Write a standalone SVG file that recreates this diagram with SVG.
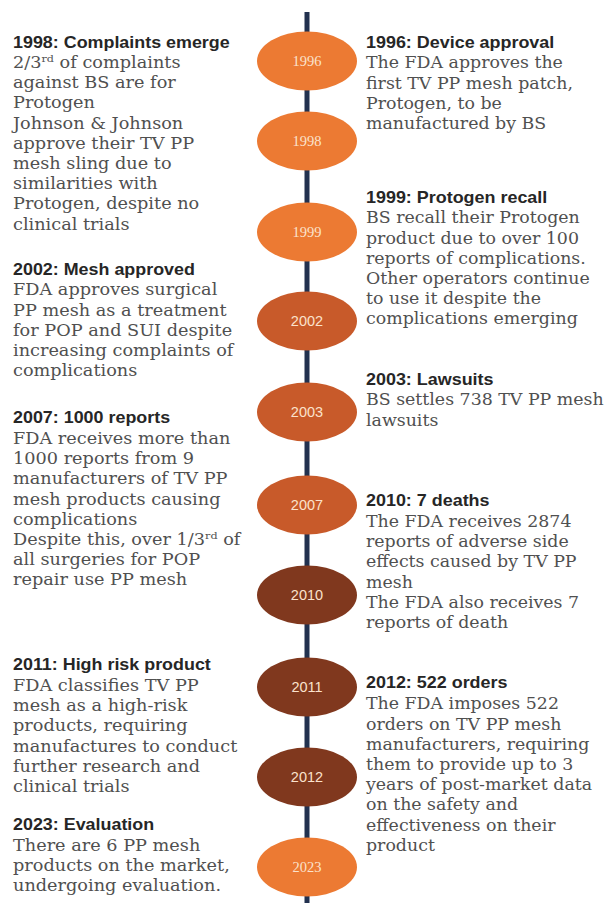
<svg xmlns="http://www.w3.org/2000/svg" width="612" height="903" viewBox="0 0 612 903">
<defs>
<style>
.t { font-family: "Liberation Sans", Arial, sans-serif; font-weight: bold; font-size: 16.3px; fill: #262626; }
.b { font-family: "DejaVu Serif", "Liberation Serif", serif; font-size: 15.8px; fill: #505050; }
.yl { font-size: 14.5px; fill: #fbe2cc; text-anchor: middle; }
.ys { font-family: "Liberation Serif", serif; }
.yn { font-family: "Liberation Sans", Arial, sans-serif; }
.c1 { fill: #ec7a33; }
.c2 { fill: #c85a2a; }
.c3 { fill: #80381e; }
.sup { font-size: 10px; }
</style>
</defs>
<rect width="612" height="903" fill="#ffffff"/>
<g id="connectors">
<line x1="307" y1="12" x2="307" y2="903" stroke="#22314f" stroke-width="5"/>
</g>
<g id="node-1996"><ellipse class="c1" cx="307" cy="61" rx="50" ry="29.5"/><text class="yl ys" x="307" y="66">1996</text></g>
<g id="node-1998"><ellipse class="c1" cx="307" cy="141" rx="50" ry="29.5"/><text class="yl ys" x="307" y="146">1998</text></g>
<g id="node-1999"><ellipse class="c1" cx="307" cy="232" rx="50" ry="29.5"/><text class="yl ys" x="307" y="237">1999</text></g>
<g id="node-2002"><ellipse class="c2" cx="307" cy="321" rx="50" ry="29.5"/><text class="yl yn" x="307" y="326">2002</text></g>
<g id="node-2003"><ellipse class="c2" cx="307" cy="412" rx="50" ry="29.5"/><text class="yl yn" x="307" y="417">2003</text></g>
<g id="node-2007"><ellipse class="c2" cx="307" cy="505" rx="50" ry="29.5"/><text class="yl yn" x="307" y="510">2007</text></g>
<g id="node-2010"><ellipse class="c3" cx="307" cy="595" rx="50" ry="29.5"/><text class="yl yn" x="307" y="600">2010</text></g>
<g id="node-2011"><ellipse class="c3" cx="307" cy="687" rx="50" ry="29.5"/><text class="yl yn" x="307" y="692">2011</text></g>
<g id="node-2012"><ellipse class="c3" cx="307" cy="777" rx="50" ry="29.5"/><text class="yl yn" x="307" y="782">2012</text></g>
<g id="node-2023"><ellipse class="c1" cx="307" cy="867" rx="50" ry="29.5"/><text class="yl ys" x="307" y="872">2023</text></g>

<g id="text-1998" transform="translate(13,0) scale(1.12,1)">
<text class="t" x="0" y="48" transform="scale(0.98,1)">1998: Complaints emerge</text>
<text class="b" x="0" y="68">2/3<tspan class="sup" dy="-6">rd</tspan><tspan dy="6"> of complaints</tspan></text>
<text class="b" x="0" y="88.2">against BS are for</text>
<text class="b" x="0" y="108.4">Protogen</text>
<text class="b" x="0" y="128.6">Johnson &amp; Johnson</text>
<text class="b" x="0" y="148.8">approve their TV PP</text>
<text class="b" x="0" y="169">mesh sling due to</text>
<text class="b" x="0" y="189.2">similarities with</text>
<text class="b" x="0" y="209.4">Protogen, despite no</text>
<text class="b" x="0" y="229.6">clinical trials</text>
</g>
<g id="text-2002" transform="translate(13,0) scale(1.12,1)">
<text class="t" x="0" y="275" transform="scale(0.98,1)">2002: Mesh approved</text>
<text class="b" x="0" y="295.5">FDA approves surgical</text>
<text class="b" x="0" y="315.7">PP mesh as a treatment</text>
<text class="b" x="0" y="335.9">for POP and SUI despite</text>
<text class="b" x="0" y="356.1">increasing complaints of</text>
<text class="b" x="0" y="376.3">complications</text>
</g>
<g id="text-2007" transform="translate(13,0) scale(1.12,1)">
<text class="t" x="0" y="423" transform="scale(0.98,1)">2007: 1000 reports</text>
<text class="b" x="0" y="444">FDA receives more than</text>
<text class="b" x="0" y="464.2">1000 reports from 9</text>
<text class="b" x="0" y="484.4">manufacturers of TV PP</text>
<text class="b" x="0" y="504.6">mesh products causing</text>
<text class="b" x="0" y="524.8">complications</text>
<text class="b" x="0" y="545">Despite this, over 1/3<tspan class="sup" dy="-6">rd</tspan><tspan dy="6"> of</tspan></text>
<text class="b" x="0" y="565.2">all surgeries for POP</text>
<text class="b" x="0" y="585.4">repair use PP mesh</text>
</g>
<g id="text-2011" transform="translate(13,0) scale(1.12,1)">
<text class="t" x="0" y="670" transform="scale(0.98,1)">2011: High risk product</text>
<text class="b" x="0" y="691">FDA classifies TV PP</text>
<text class="b" x="0" y="711.2">mesh as a high-risk</text>
<text class="b" x="0" y="731.4">products, requiring</text>
<text class="b" x="0" y="751.6">manufactures to conduct</text>
<text class="b" x="0" y="771.8">further research and</text>
<text class="b" x="0" y="792">clinical trials</text>
</g>
<g id="text-2023" transform="translate(13,0) scale(1.12,1)">
<text class="t" x="0" y="830" transform="scale(0.98,1)">2023: Evaluation</text>
<text class="b" x="0" y="851">There are 6 PP mesh</text>
<text class="b" x="0" y="871.2">products on the market,</text>
<text class="b" x="0" y="891.4">undergoing evaluation.</text>
</g>

<g id="text-1996" transform="translate(366,0) scale(1.1,1)">
<text class="t" x="0" y="48.5">1996: Device approval</text>
<text class="b" x="0" y="68.5">The FDA approves the</text>
<text class="b" x="0" y="88.7">first TV PP mesh patch,</text>
<text class="b" x="0" y="108.9">Protogen, to be</text>
<text class="b" x="0" y="129.1">manufactured by BS</text>
</g>
<g id="text-1999" transform="translate(366,0) scale(1.1,1)">
<text class="t" x="0" y="203">1999: Protogen recall</text>
<text class="b" x="0" y="223.5">BS recall their Protogen</text>
<text class="b" x="0" y="243.7">product due to over 100</text>
<text class="b" x="0" y="263.9">reports of complications.</text>
<text class="b" x="0" y="284.1">Other operators continue</text>
<text class="b" x="0" y="304.3">to use it despite the</text>
<text class="b" x="0" y="324.5">complications emerging</text>
</g>
<g id="text-2003" transform="translate(366,0) scale(1.1,1)">
<text class="t" x="0" y="385">2003: Lawsuits</text>
<text class="b" x="0" y="405.5">BS settles 738 TV PP mesh</text>
<text class="b" x="0" y="425.7">lawsuits</text>
</g>
<g id="text-2010" transform="translate(366,0) scale(1.1,1)">
<text class="t" x="0" y="506.5">2010: 7 deaths</text>
<text class="b" x="0" y="527">The FDA receives 2874</text>
<text class="b" x="0" y="547.2">reports of adverse side</text>
<text class="b" x="0" y="567.4">effects caused by TV PP</text>
<text class="b" x="0" y="587.6">mesh</text>
<text class="b" x="0" y="607.8">The FDA also receives 7</text>
<text class="b" x="0" y="628">reports of death</text>
</g>
<g id="text-2012" transform="translate(366,0) scale(1.1,1)">
<text class="t" x="0" y="688.5">2012: 522 orders</text>
<text class="b" x="0" y="709.5">The FDA imposes 522</text>
<text class="b" x="0" y="729.7">orders on TV PP mesh</text>
<text class="b" x="0" y="749.9">manufacturers, requiring</text>
<text class="b" x="0" y="770.1">them to provide up to 3</text>
<text class="b" x="0" y="790.3">years of post-market data</text>
<text class="b" x="0" y="810.5">on the safety and</text>
<text class="b" x="0" y="830.7">effectiveness on their</text>
<text class="b" x="0" y="850.9">product</text>
</g>
</svg>
